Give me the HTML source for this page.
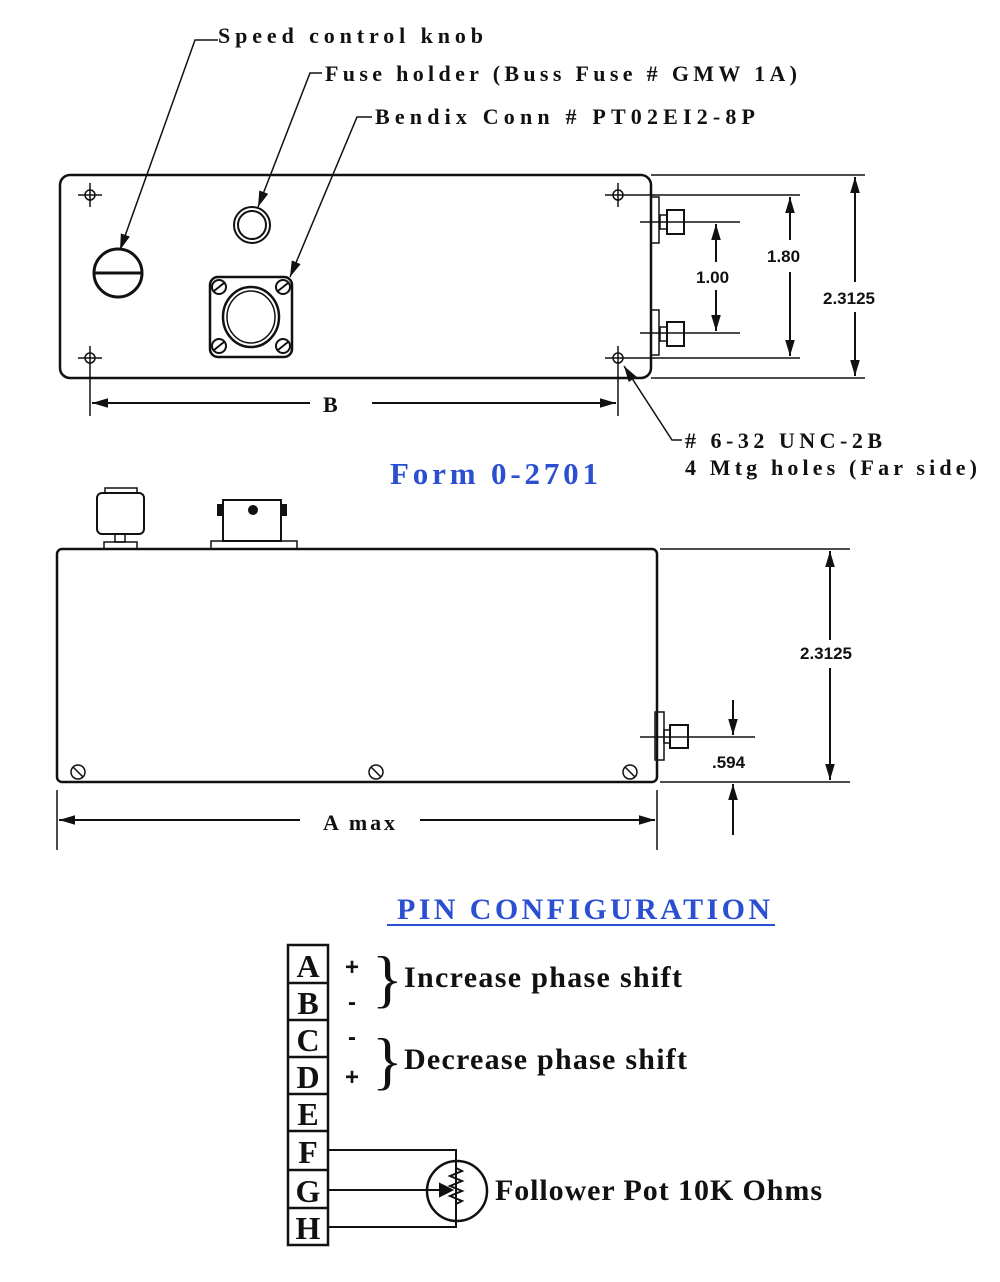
<!DOCTYPE html>
<html><head><meta charset="utf-8"><style>
html,body{margin:0;padding:0;background:#fff;}
svg{display:block}
.lbl{font-family:"Liberation Serif",serif;font-weight:bold;font-size:22px;fill:#111}
.dim{font-family:"Liberation Sans",sans-serif;font-weight:bold;font-size:17px;fill:#111}
.pin{font-family:"Liberation Serif",serif;font-weight:bold;font-size:32px;fill:#111}
.txt{font-family:"Liberation Serif",serif;font-weight:bold;font-size:30px;fill:#111}
</style></head><body>
<svg width="1000" height="1282" viewBox="0 0 1000 1282" xmlns="http://www.w3.org/2000/svg">
<defs>
<marker id="b" viewBox="0 0 10 10" refX="10" refY="5" markerWidth="16" markerHeight="16" orient="auto-start-reverse" markerUnits="userSpaceOnUse">
<path d="M0,2 L10,5 L0,8 z" fill="#111"/></marker>
</defs>
<g stroke="#111" fill="none" stroke-width="2">
<rect x="60" y="175" width="591" height="203" rx="10" stroke-width="2.5"/>
<g stroke-width="1.5">
<circle cx="90" cy="195" r="5"/><path d="M78 195h24M90 183v24"/>
<circle cx="618" cy="195" r="5"/><path d="M605 195h195M618 183v24"/>
<circle cx="90" cy="358" r="5"/><path d="M78 358h24M90 346v70"/>
<circle cx="618" cy="358" r="5"/><path d="M605 358h195M618 346v70"/>
</g>
<circle cx="118" cy="273" r="24" stroke-width="3"/><path d="M95 273h46" stroke-width="3"/>
<circle cx="252" cy="225" r="18" stroke-width="2"/><circle cx="252" cy="225" r="14" stroke-width="2"/>
<rect x="210" y="277" width="82" height="80" rx="8" stroke-width="2.5"/>
<ellipse cx="251" cy="317" rx="28" ry="30" stroke-width="2.5"/><ellipse cx="251" cy="317" rx="24" ry="26" stroke-width="1.5"/>
<g stroke-width="2"><circle cx="219" cy="287" r="7"/><circle cx="283" cy="287" r="7"/><circle cx="219" cy="346" r="7"/><circle cx="283" cy="346" r="7"/>
<path d="M214 291l10-8M278 291l10-8M214 350l10-8M278 350l10-8"/></g>
<rect x="651" y="197" width="8" height="46" stroke-width="1.5"/>
<rect x="651" y="310" width="8" height="45" stroke-width="1.5"/>
<rect x="667" y="210" width="17" height="24" stroke-width="2"/><rect x="660" y="215" width="7" height="14" stroke-width="1.5"/>
<rect x="667" y="322" width="17" height="24" stroke-width="2"/><rect x="660" y="327" width="7" height="14" stroke-width="1.5"/>
<path d="M640 222h100M640 333h100" stroke-width="1.5"/>
<path d="M651 175h214M651 378h214" stroke-width="1.5"/>
<path d="M716 262V224" marker-end="url(#b)"/><path d="M716 290V331" marker-end="url(#b)"/>
<path d="M790 240V197" marker-end="url(#b)"/><path d="M790 272V356" marker-end="url(#b)"/>
<path d="M855 282V177" marker-end="url(#b)"/><path d="M855 312V376" marker-end="url(#b)"/>
<path d="M310 403H92" marker-end="url(#b)"/><path d="M372 403H616" marker-end="url(#b)"/>
<path d="M218 40H195L120 250" stroke-width="1.5" marker-end="url(#b)"/>
<path d="M322 73H310L258 207" stroke-width="1.5" marker-end="url(#b)"/>
<path d="M372 117H357L290 277" stroke-width="1.5" marker-end="url(#b)"/>
<path d="M682 440H672L624 366" stroke-width="1.5" marker-end="url(#b)"/>
<rect x="57" y="549" width="600" height="233" rx="5" stroke-width="2.5"/>
<rect x="105" y="488" width="32" height="5" stroke-width="1.5"/>
<rect x="97" y="493" width="47" height="41" rx="5" stroke-width="2"/>
<rect x="115" y="534" width="10" height="8" stroke-width="1.5"/>
<rect x="104" y="542" width="33" height="7" stroke-width="1.5"/>
<rect x="223" y="500" width="58" height="41" stroke-width="2"/>
<rect x="218" y="505" width="5" height="10" fill="#111"/><rect x="281" y="505" width="5" height="10" fill="#111"/>
<circle cx="253" cy="510" r="4" fill="#111"/>
<rect x="211" y="541" width="86" height="8" stroke-width="1.5"/>
<g stroke-width="1.5"><circle cx="78" cy="772" r="7"/><path d="M73 767l10 10"/>
<circle cx="376" cy="772" r="7"/><path d="M371 767l10 10"/>
<circle cx="630" cy="772" r="7"/><path d="M625 767l10 10"/></g>
<rect x="655" y="712" width="9" height="48" stroke-width="1.5"/>
<rect x="670" y="725" width="18" height="23" stroke-width="2"/><rect x="664" y="730" width="6" height="13" stroke-width="1.5"/>
<path d="M640 737h115" stroke-width="1.5"/>
<path d="M660 549h190M660 782h190" stroke-width="1.5"/>
<path d="M830 640V551" marker-end="url(#b)"/><path d="M830 668V780" marker-end="url(#b)"/>
<path d="M733 700V735" marker-end="url(#b)"/><path d="M733 835V784" marker-end="url(#b)"/>
<path d="M57 790v60M657 790v60" stroke-width="1.5"/>
<path d="M300 820H59" marker-end="url(#b)"/><path d="M420 820H655" marker-end="url(#b)"/>
<path d="M387 925H775" stroke="#2a4fd0" stroke-width="2"/>
<g stroke-width="2.5">
<rect x="288" y="945" width="40" height="300"/>
<path d="M288 983h40M288 1020h40M288 1057h40M288 1094h40M288 1131h40M288 1170h40M288 1208h40"/>
</g>
<path d="M328 1150H456V1227H328M328 1190H452" stroke-width="2"/>
<circle cx="457" cy="1191" r="30" stroke-width="2.5"/>
<path d="M456 1168l6 3-12 5 12 5-12 5 12 5-12 5 12 5-6 3" stroke-width="2"/>
<path d="M440 1184l12 6-12 6z" fill="#111"/>
</g>
<text x="218" y="43" class="lbl" textLength="265" lengthAdjust="spacing">Speed control knob</text>
<text x="325" y="81" class="lbl" textLength="472" lengthAdjust="spacing">Fuse holder (Buss Fuse # GMW 1A)</text>
<text x="375" y="124" class="lbl" textLength="380" lengthAdjust="spacing">Bendix Conn # PT02EI2-8P</text>
<text x="685" y="448" class="lbl" textLength="197" lengthAdjust="spacing"># 6-32 UNC-2B</text>
<text x="685" y="475" class="lbl" textLength="292" lengthAdjust="spacing">4 Mtg holes (Far side)</text>
<text x="323" y="412" class="lbl">B</text>
<text x="323" y="830" class="lbl" textLength="72" lengthAdjust="spacing">A max</text>
<text x="390" y="484" font-family="Liberation Serif,serif" font-weight="bold" font-size="31" fill="#2a4fd0" textLength="208" lengthAdjust="spacing">Form 0-2701</text>
<text x="696" y="283" class="dim">1.00</text>
<text x="767" y="262" class="dim">1.80</text>
<text x="823" y="304" class="dim">2.3125</text>
<text x="800" y="659" class="dim">2.3125</text>
<text x="712" y="768" class="dim">.594</text>
<text x="397" y="919" font-family="Liberation Serif,serif" font-weight="bold" font-size="30" fill="#2a4fd0" textLength="373" lengthAdjust="spacing">PIN  CONFIGURATION</text>
<g text-anchor="middle">
<text x="308" y="977" class="pin">A</text><text x="308" y="1014" class="pin">B</text>
<text x="308" y="1051" class="pin">C</text><text x="308" y="1088" class="pin">D</text>
<text x="308" y="1125" class="pin">E</text><text x="308" y="1163" class="pin">F</text>
<text x="308" y="1202" class="pin">G</text><text x="308" y="1239" class="pin">H</text>
</g>
<g font-family="Liberation Sans,sans-serif" font-weight="bold" font-size="24" fill="#111">
<text x="345" y="975">+</text><text x="348" y="1010">-</text>
<text x="348" y="1045">-</text><text x="345" y="1085">+</text>
</g>
<text x="372" y="1000" font-family="Liberation Serif,serif" font-size="64" fill="#111">}</text>
<text x="372" y="1082" font-family="Liberation Serif,serif" font-size="64" fill="#111">}</text>
<text x="404" y="987" class="txt" textLength="278" lengthAdjust="spacing">Increase phase shift</text>
<text x="404" y="1069" class="txt" textLength="283" lengthAdjust="spacing">Decrease phase shift</text>
<text x="495" y="1200" class="txt" textLength="327" lengthAdjust="spacing">Follower Pot 10K Ohms</text>
</svg>
</body></html>
